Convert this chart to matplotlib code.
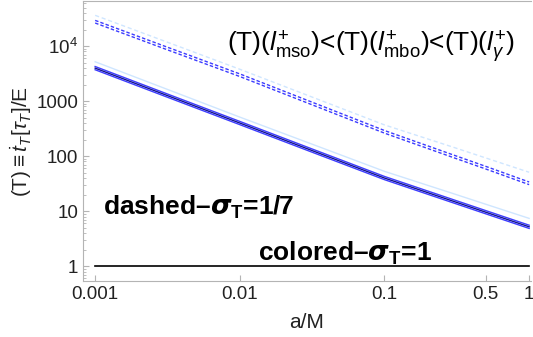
import numpy as np
import matplotlib
matplotlib.use("Agg")
import matplotlib.pyplot as plt
from matplotlib.ticker import FixedLocator, NullFormatter, LogLocator

plt.rcParams['font.family'] = ['Liberation Sans', 'DejaVu Sans']
plt.rcParams['mathtext.fontset'] = 'custom'
plt.rcParams['mathtext.rm'] = 'Liberation Sans'
plt.rcParams['mathtext.it'] = 'Liberation Sans:italic'
plt.rcParams['mathtext.bf'] = 'Liberation Sans:bold'
plt.rcParams['mathtext.sf'] = 'Liberation Sans'

# data
a_over_M = [0.001, 0.003, 0.01, 0.03, 0.1, 0.3, 0.5, 1.0]
solid_main = [3980, 1327, 400, 133, 40, 15.1, 9.6, 5.2]
solid_light = [5200, 1722, 513, 174, 53, 20.8, 13.4, 7.4]
dashed_main = [27700, 9480, 2950, 953, 276, 99, 61.7, 32]
dashed_light = [36300, 12400, 3800, 1250, 370, 145, 93, 51]
unity = [1.0, 1.0]
unity_x = [0.001, 1.0]

xticks = [0.001, 0.01, 0.1, 0.5, 1]
xticklabels = ["0.001", "0.01", "0.1", "0.5", "1"]
yticks = [1, 10, 100, 1000, 10000]
yticklabels = ["1", "10", "100", "1000", r"$10^4$"]

fig = plt.figure(figsize=(5.33, 3.37), dpi=100)
ax = fig.add_axes([0.156, 0.166, 0.840, 0.831])
ax.set_xscale('log')
ax.set_yscale('log')

blue = '#3c3cff'
navy = '#14148c'
light = '#cfe6ff'

x = np.array(a_over_M)
ax.plot(x, np.array(solid_light), color=light, lw=1.0)
ax.plot(x, np.array(solid_main) * 1.07, color=blue, lw=1.0)
ax.plot(x, np.array(solid_main), color=navy, lw=1.0)
ax.plot(x, np.array(solid_main) * 0.935, color=blue, lw=1.0)

ax.plot(x, np.array(dashed_light), color=light, lw=1.0, dashes=(3, 2))
ax.plot(x, np.array(dashed_main) * 1.06, color=blue, lw=1.0, dashes=(2.5, 1.5))
ax.plot(x, np.array(dashed_main) * 0.95, color=blue, lw=1.0, dashes=(2.5, 1.5))

ax.plot(unity_x, unity, color='black', lw=1.2)

ax.set_xlim(10 ** -3.083, 10 ** 0.012)
ax.set_ylim(10 ** -0.27, 10 ** 4.82)

ax.xaxis.set_major_locator(FixedLocator(xticks))
ax.set_xticklabels(xticklabels)
ax.xaxis.set_minor_locator(FixedLocator([]))
ax.yaxis.set_major_locator(FixedLocator(yticks))
ax.set_yticklabels(yticklabels)
ax.yaxis.set_minor_locator(LogLocator(base=10, subs=np.arange(2, 10) * 1.0, numticks=20))
ax.yaxis.set_minor_formatter(NullFormatter())

gray = '#b4b4b4'
for s in ['left', 'bottom', 'top', 'right']:
    ax.spines[s].set_color(gray)
ax.spines['right'].set_visible(False)
ax.tick_params(which='both', direction='in', color=gray, labelsize=13.5, labelcolor='#222222')
ax.tick_params(which='major', length=4)
ax.tick_params(which='minor', length=2)
ax.tick_params(top=False, right=False)

ax.set_xlabel('a/M', fontsize=15, color='#222222', labelpad=7)
ax.set_ylabel(r'(T)$\equiv\dot{t}_{T}[\tau_{T}]$/E', fontsize=15, color='#222222', labelpad=2)

ax.text(0.964, 0.836, r'(T)($l^{+}_{\rm mso}$)<(T)($l^{+}_{\rm mbo}$)<(T)($l^{+}_{\gamma}$)',
        transform=ax.transAxes, ha='right', va='center', fontsize=19)
ax.text(0.045, 0.236, 'dashed\u2013' + r'$\boldsymbol{\sigma}_{\mathbf{T}}$' + '=1/7', transform=ax.transAxes,
        ha='left', va='baseline', fontsize=19, fontweight='bold')
ax.text(0.39, 0.071, 'colored\u2013' + r'$\boldsymbol{\sigma}_{\mathbf{T}}$' + '=1', transform=ax.transAxes,
        ha='left', va='baseline', fontsize=19, fontweight='bold')

fig.savefig('out.png', dpi=100)
